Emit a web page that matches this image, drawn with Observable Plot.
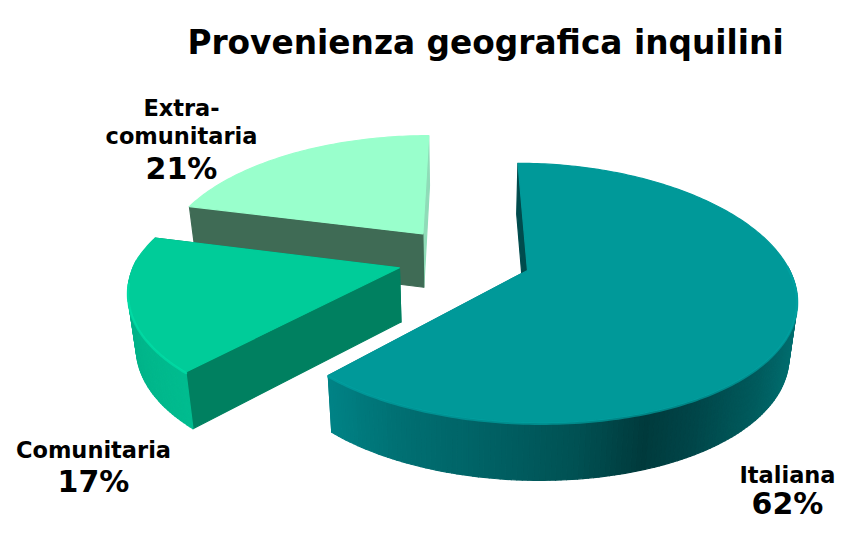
<!DOCTYPE html>
<html><head><meta charset="utf-8">
<script src="https://cdn.jsdelivr.net/npm/d3@7"></script>
<script src="https://cdn.jsdelivr.net/npm/@observablehq/plot@0.6"></script>
<style>html,body{margin:0;padding:0;background:#fff}svg{display:block}</style>
</head><body><div id="chart"></div>
<script>
const categories = ["Italiana", "Comunitaria", "Extra-comunitaria"];
const shares = [62, 17, 21];
const chartTitle = "Provenienza geografica inquilini";
const topColors = ["#009999", "#00CC99", "#99FFCC"];
const nameLines = [["Italiana"], ["Comunitaria"], ["Extra-", "comunitaria"]];

// projection of the exploded pie (a tilted disc seen in perspective)
const cx = 460, cy = 259, A = 263, B = 122, kx = 0.19, ky = 0.17, explode = 0.242, shrink = 0.025;
const sliceLift = [0, 0, -3], sliceShift = [8, 0, 0], sliceSkew = [0, 12, 12], sliceScale = [0.98, 1, 1];
const project = (u, v, h, i) => {
  const sx = 1 / (1 - kx * v), sy = 1 / (1 - ky * v);
  return [
    cx + sliceShift[i] + sliceSkew[i] * Math.max(0, v) + A * sliceScale[i] * u * sx * (1 - shrink * h),
    cy + B * v * sy + h * (54 + 3.5 * v) + sliceLift[i]
  ];
};
const rad = Math.PI / 180;

// wall shading stops, along the horizontal position
const wallShade = [
  d3.scaleLinear().domain([328, 400, 500, 580, 645, 700, 760, 798])
    .range(["#008285", "#006f72", "#005f62", "#005052", "#003a3c", "#00474a", "#005c5e", "#006f70"]).clamp(true),
  d3.scaleLinear().domain([127, 150, 190]).range(["#00b389", "#00b88c", "#00bd90"]).clamp(true),
  d3.scaleLinear().domain([180, 430]).range(["#3f6b55", "#3f6b55"]).clamp(true)
];
const startWall = ["#004b4d", "#008060", "#3f6b55"];
const endWall = ["#008285", "#008060", "#8fdcb8"];
const rimColors = ["#00a3a3", "#00e0a8", "#a8ffd4"];

const polys = [], rims = [];
let acc = 0, pid = 0;
const addPoly = (pts, color) => { const id = pid++; pts.forEach(p => polys.push({id, x: p[0], y: p[1], color})); };

const slices = shares.map((v, i) => {
  const a0 = acc * 3.6; acc += v; const a1 = acc * 3.6;
  const mid = (a0 + a1) / 2 * rad;
  return {i, a0, a1, ox: explode * Math.sin(mid), oy: -explode * Math.cos(mid)};
});
const at = (sl, deg, h = 0) => project(sl.ox + Math.sin(deg * rad), sl.oy - Math.cos(deg * rad), h, sl.i);
const apex = (sl, h = 0) => project(sl.ox, sl.oy, h, sl.i);

for (const sl of [slices[2], slices[1], slices[0]]) {
  const n = Math.round(sl.a1 - sl.a0);
  const degs = d3.range(n + 1).map(j => sl.a0 + (sl.a1 - sl.a0) * j / n);
  // flat cut walls
  addPoly([apex(sl), at(sl, sl.a1), at(sl, sl.a1, 1), apex(sl, 1)], endWall[sl.i]);
  addPoly([apex(sl), at(sl, sl.a0), at(sl, sl.a0, 1), apex(sl, 1)], startWall[sl.i]);
  // curved outer wall
  for (let j = 0; j < n; j++) {
    const a = at(sl, degs[j]), b = at(sl, degs[j + 1]);
    const cA = at(sl, degs[j], 1), cB = at(sl, degs[j + 1], 1);
    if (Math.cos(degs[j] * rad) < 0.05) addPoly([a, b, cB, cA], wallShade[sl.i]((a[0] + b[0]) / 2));
  }
  // top face
  addPoly([apex(sl), ...degs.map(d => at(sl, d))], topColors[sl.i]);
  // highlight along the front rim
  if (sl.i < 2) degs.filter(d => Math.cos(d * rad) < -0.1 || (sl.i === 0 && Math.cos(d * rad) < 0.05))
    .forEach(d => { const p = at(sl, d, 0.02); rims.push({s: sl.i, x: p[0], y: p[1], c: rimColors[sl.i]}); });
}

// label rows: lines are taken from the lists above
const labelAnchors = [[787, 482, 513], [93, 457, 491], [181, 143, 178]];
const nameRows = [], pctRows = [];
categories.forEach((c, i) => {
  const [lx, ly, py] = labelAnchors[i];
  const lines = nameLines[i];
  lines.forEach((t, j) => nameRows.push({t, x: lx, y: ly - (lines.length - 1 - j) * 28}));
  pctRows.push({t: shares[i] + "%", x: lx, y: py});
});

const font = "'DejaVu Sans', Verdana, sans-serif";
const chart = Plot.plot({
  width: 851, height: 549, margin: 0,
  x: {domain: [0, 851], range: [0, 851], axis: null},
  y: {domain: [0, 549], range: [0, 549], axis: null},
  color: {type: "identity"},
  style: {background: "#fff", fontFamily: font},
  marks: [
    Plot.line(polys, {x: "x", y: "y", z: "id", fill: "color", stroke: "color", strokeWidth: 1.2, curve: "linear-closed"}),
    Plot.line(rims, {x: "x", y: "y", z: "s", stroke: "c", strokeWidth: 2.5, strokeOpacity: 0.7}),
    Plot.text([chartTitle], {x: 485, y: 53, text: d => d, fontSize: 32.8, fontWeight: "bold", lineAnchor: "bottom", fill: "#000"}),
    Plot.text(nameRows, {x: "x", y: "y", text: "t", fontSize: 22.5, fontWeight: "bold", lineAnchor: "bottom", fill: "#000"}),
    Plot.text(pctRows, {x: "x", y: "y", text: "t", fontSize: 30, fontWeight: "bold", lineAnchor: "bottom", fill: "#000"})
  ]
});
document.getElementById("chart").append(chart);
</script></body></html>
